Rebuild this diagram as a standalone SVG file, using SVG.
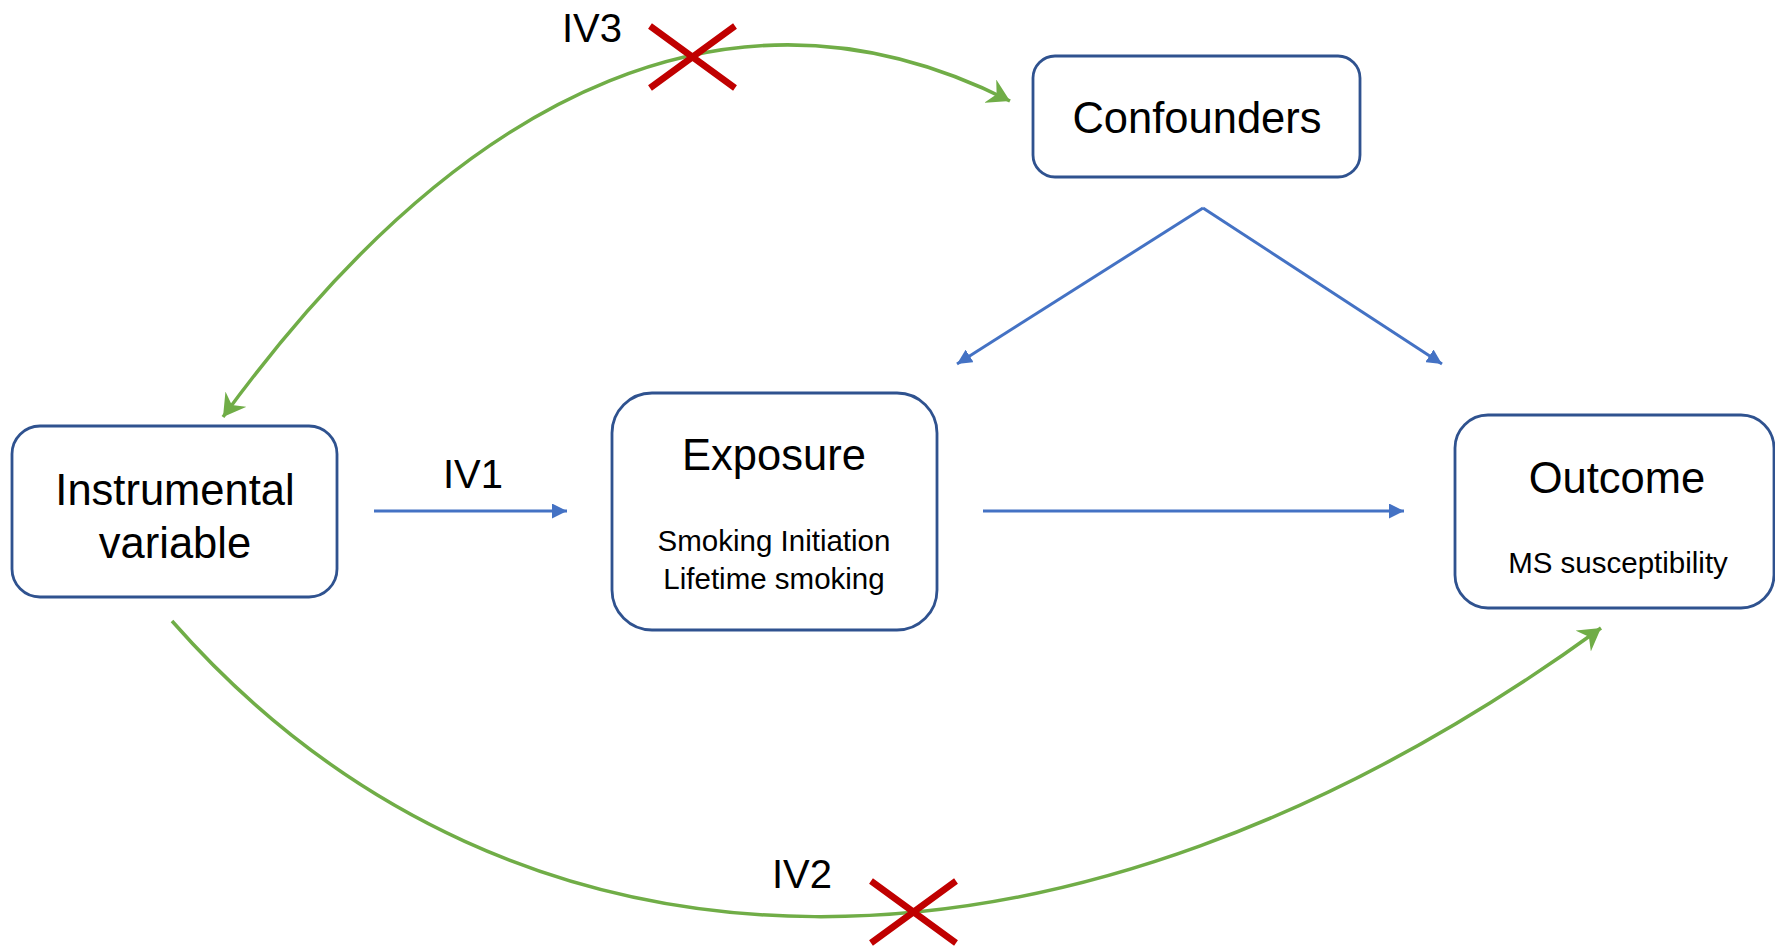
<svg xmlns="http://www.w3.org/2000/svg" width="1775" height="949" viewBox="0 0 1775 949">
<style>
.box{fill:#fff;stroke:#2F528F;stroke-width:2.8}
.big{font-family:"Liberation Sans",Arial,sans-serif;font-size:43.5px;fill:#000;text-anchor:middle}
.iv{font-family:"Liberation Sans",Arial,sans-serif;font-size:40px;fill:#000;text-anchor:middle}
.small{font-family:"Liberation Sans",Arial,sans-serif;font-size:29.5px;fill:#000;text-anchor:middle}
.blue{fill:none;stroke:#4472C4;stroke-width:3;marker-end:url(#ab)}
.green{fill:none;stroke:#70AD47;stroke-width:3.5}
.cross{stroke:#C00000;stroke-width:6.5;fill:none}
</style>
<defs>
<marker id="ab" markerUnits="userSpaceOnUse" viewBox="0 0 15 15" refX="15" refY="7.5" markerWidth="15" markerHeight="15" orient="auto">
<path d="M0,0 L15,7.5 L0,15 Z" fill="#4472C4"/>
</marker>
<marker id="ag" markerUnits="userSpaceOnUse" viewBox="0 0 22 26" refX="22" refY="13" markerWidth="22" markerHeight="26" orient="auto-start-reverse">
<path d="M0,0 L22,13 L0,26 L7,13 Z" fill="#70AD47"/>
</marker>
</defs>
<rect width="1775" height="949" fill="#fff"/>
<g id="connectors">
<path class="green" d="M223,417 C471,77 743,-34 1010,101" marker-start="url(#ag)" marker-end="url(#ag)"/>
<path class="green" d="M172,621 C515,1011 1066,1017 1601,628" marker-end="url(#ag)"/>
<line class="blue" x1="374" y1="511" x2="567" y2="511"/>
<line class="blue" x1="983" y1="511" x2="1404" y2="511"/>
<polyline class="blue" points="1203,208 957,364"/>
<polyline class="blue" points="1203,208 1442,364"/>
<path class="cross" d="M650,26 L735,88 M735,26 L650,88"/>
<path class="cross" d="M871,881 L956,943 M956,881 L871,943"/>
<text class="iv" x="592" y="42">IV3</text>
<text class="iv" x="473" y="488">IV1</text>
<text class="iv" x="802" y="888">IV2</text>
</g>
<g id="confounders">
<rect class="box" x="1033" y="56" width="327" height="121" rx="22"/>
<text class="big" x="1197" y="133">Confounders</text>
</g>
<g id="instrumental">
<rect class="box" x="12" y="426" width="325" height="171" rx="28"/>
<text class="big" x="175" y="505">Instrumental</text>
<text class="big" x="175" y="558">variable</text>
</g>
<g id="exposure">
<rect class="box" x="612" y="393" width="325" height="237" rx="40"/>
<text class="big" x="774" y="470">Exposure</text>
<text class="small" x="774" y="551">Smoking Initiation</text>
<text class="small" x="774" y="589">Lifetime smoking</text>
</g>
<g id="outcome">
<rect class="box" x="1455" y="415" width="319" height="193" rx="33"/>
<text class="big" x="1617" y="493">Outcome</text>
<text class="small" x="1618" y="573">MS susceptibility</text>
</g>
</svg>
